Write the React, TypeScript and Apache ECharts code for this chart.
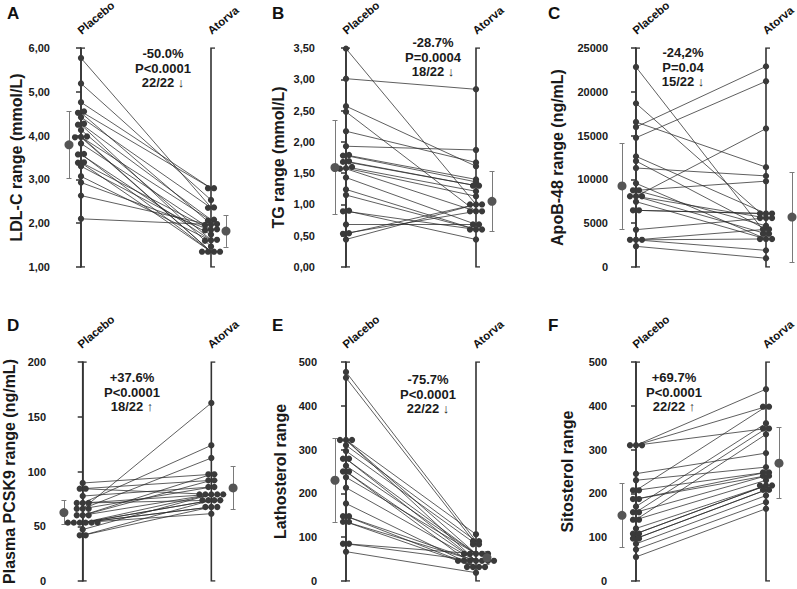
import React, { useEffect, useRef } from "react";
import * as echarts from "echarts";

const FONT = '"Liberation Sans", Arial, Helvetica, sans-serif';

const GROUPS = ["Placebo", "Atorva"];
const PANEL_LETTERS = ["A", "B", "C", "D", "E", "F"];
const Y_AXIS_NAMES = [
  "LDL-C range (mmol/L)",
  "TG range (mmol/L)",
  "ApoB-48 range (ng/mL)",
  "Plasma PCSK9 range (ng/mL)",
  "Lathosterol range",
  "Sitosterol range",
];
const Y_MIN = [1, 0, 0, 0, 0, 0];
const Y_MAX = [6, 3.5, 25000, 200, 500, 500];
const Y_INTERVAL = [1, 0.5, 5000, 50, 100, 100];
const Y_DECIMALS = [2, 2, 0, 0, 0, 0];
const ANNOTATIONS = [
  ["-50.0%", "P<0.0001", "22/22 ↓"],
  ["-28.7%", "P=0.0004", "18/22 ↓"],
  ["-24,2%", "P=0.04", "15/22 ↓"],
  ["+37.6%", "P<0.0001", "18/22 ↑"],
  ["-75.7%", "P<0.0001", "22/22 ↓"],
  ["+69.7%", "P<0.0001", "22/22 ↑"],
];

// paired values (index k = same subject)
const LDL_PLACEBO = [5.77, 5.19, 4.76, 4.55, 4.52, 4.42, 4.27, 4.25, 4.13, 3.98, 3.97, 3.96, 3.82, 3.58, 3.57, 3.39, 3.38, 3.3, 3.07, 2.93, 2.63, 2.1];
const LDL_ATORVA = [2.36, 2.53, 2.8, 2.8, 1.98, 2.35, 2.08, 1.47, 1.62, 1.35, 2.06, 1.35, 1.86, 1.35, 1.61, 1.85, 1.35, 1.74, 1.6, 1.84, 1.96, 1.97];

const TG_PLACEBO = [3.49, 3.01, 2.57, 2.48, 2.17, 1.93, 1.79, 1.78, 1.69, 1.68, 1.6, 1.58, 1.57, 1.43, 1.24, 1.15, 0.9, 0.89, 0.68, 0.54, 0.53, 0.44];
const TG_ATORVA = [1.0, 2.84, 1.61, 0.89, 1.67, 1.87, 1.4, 1.36, 1.3, 1.3, 1.21, 1.13, 0.89, 0.68, 0.6, 0.6, 0.44, 0.6, 0.68, 0.89, 1.0, 1.0];

const APOB_PLACEBO = [22830, 18680, 16550, 15980, 14760, 12630, 12100, 11300, 9550, 8750, 8750, 8070, 8070, 8070, 7460, 6470, 6470, 4260, 3100, 3100, 3100, 2360];
const APOB_ATORVA = [3800, 5600, 11400, 22900, 21200, 6100, 4300, 10400, 3200, 9800, 4700, 15800, 5600, 3800, 3200, 6100, 6100, 5600, 3200, 4300, 1900, 1000];

const PCSK9_PLACEBO = [89.5, 84.3, 84.3, 77.6, 71.2, 71.2, 71.2, 66, 66, 66, 60, 60, 60, 53.3, 53.3, 53.3, 53.3, 53.3, 53.3, 47, 41.7, 41.7];
const PCSK9_ATORVA = [97.4, 91.9, 79.1, 85.8, 123.9, 79.1, 73.7, 162.6, 112.3, 85.8, 97.4, 91.9, 79.1, 73.7, 79.1, 67.6, 73.7, 61.5, 67.6, 79.1, 73.7, 67.6];

const LATHO_PLACEBO = [477, 464, 322, 322, 322, 310, 297, 279, 279, 263, 250, 250, 237, 213, 177, 148, 148, 135, 135, 85, 85, 67];
const LATHO_ATORVA = [91, 84, 106.5, 62, 46, 91, 84, 62, 46, 62, 46, 32, 62, 46, 32, 46, 32, 46, 32, 46, 62, 19];

const SITO_PLACEBO = [310, 310, 310, 245, 230, 207, 207, 187, 187, 170, 157, 157, 140, 140, 120, 108, 108, 97, 97, 85, 72, 55];
const SITO_ATORVA = [438, 398, 348, 292, 260, 248, 398, 248, 240, 360, 348, 240, 230, 335, 218, 218, 218, 208, 208, 195, 180, 165];

const MEAN_PLACEBO = [3.79, 1.59, 9250, 62.5, 230, 150];
const SD_PLACEBO = [0.77, 0.75, 4900, 11, 95, 73];
const MEAN_ATORVA = [1.82, 1.05, 5700, 85, 53, 269];
const SD_ATORVA = [0.36, 0.48, 5130, 19.5, 14, 81];

const PLACEBO_SETS = [LDL_PLACEBO, TG_PLACEBO, APOB_PLACEBO, PCSK9_PLACEBO, LATHO_PLACEBO, SITO_PLACEBO];
const ATORVA_SETS = [LDL_ATORVA, TG_ATORVA, APOB_ATORVA, PCSK9_ATORVA, LATHO_ATORVA, SITO_ATORVA];

// layout (pixels)
const PLOT_H = 219;
const LAYOUT = [
  { axisX: 62, plac: 81, ator: 211, top: 48, labelMargin: 12, nameGap: 38, letterX: 7, letterY: 13, annX: 163, annY: 54, meanOffP: 12, meanOffA: 15 },
  { axisX: 327, plac: 346, ator: 476, top: 48, labelMargin: 12, nameGap: 41, letterX: 272, letterY: 13, annX: 433, annY: 43, meanOffP: 11, meanOffA: 16 },
  { axisX: 614, plac: 636, ator: 766, top: 48, labelMargin: 6, nameGap: 49, letterX: 548, letterY: 13, annX: 683, annY: 53, meanOffP: 14, meanOffA: 26 },
  { axisX: 54, plac: 81, ator: 211, top: 362, labelMargin: 10, nameGap: 39, letterX: 7, letterY: 325, annX: 132, annY: 378, meanOffP: 19, meanOffA: 22 },
  { axisX: 327, plac: 346, ator: 476, top: 362, labelMargin: 10, nameGap: 39, letterX: 272, letterY: 325, annX: 428, annY: 380, meanOffP: 11, meanOffA: 11 },
  { axisX: 614, plac: 636, ator: 766, top: 362, labelMargin: 7, nameGap: 39, letterX: 548, letterY: 325, annX: 674, annY: 378, meanOffP: 14, meanOffA: 13 },
];
const LABEL_ANGLE = (40 * Math.PI) / 180;

function swarmOffsets(values: number[], pxPerUnit: number, rowThresh = 2.2, step = 6): number[] {
  const idx = values.map((_, i) => i).sort((a, b) => values[a] - values[b]);
  const offsets = new Array(values.length).fill(0);
  let row: number[] = [];
  let rowStart: number | null = null;
  const flush = () => {
    const n = row.length;
    row.forEach((id, j) => {
      offsets[id] = (j - (n - 1) / 2) * step;
    });
    row = [];
  };
  for (const id of idx) {
    const ypx = values[id] * pxPerUnit;
    if (rowStart === null || ypx - rowStart > rowThresh) {
      flush();
      rowStart = ypx;
    }
    row.push(id);
  }
  flush();
  return offsets;
}

export default function App() {
  const ref = useRef<HTMLDivElement>(null);
  useEffect(() => {
    const chart = echarts.init(ref.current!, undefined, { renderer: "svg" });
    const grids: any[] = [];
    const xAxes: any[] = [];
    const yAxes: any[] = [];
    const series: any[] = [];
    const graphics: any[] = [];

    PLACEBO_SETS.forEach((placebo, i) => {
      const atorva = ATORVA_SETS[i];
      const L = LAYOUT[i];
      const pxX = L.ator - L.plac;
      const right = L.ator + 31;
      const yMin = Y_MIN[i];
      const yMax = Y_MAX[i];
      const pxY = PLOT_H / (yMax - yMin);

      grids.push({ left: L.axisX, top: L.top, width: right - L.axisX, height: PLOT_H });
      xAxes.push({
        type: "value",
        gridIndex: i,
        min: -(L.plac - L.axisX) / pxX,
        max: 1 + (right - L.ator) / pxX,
        show: false,
      });
      yAxes.push({
        type: "value",
        gridIndex: i,
        min: yMin,
        max: yMax,
        interval: Y_INTERVAL[i],
        name: Y_AXIS_NAMES[i],
        nameLocation: "middle",
        nameGap: L.nameGap,
        nameTextStyle: { fontSize: 16, fontWeight: "bold", fontFamily: FONT, color: "#1a1a1a" },
        axisLine: { show: true, lineStyle: { color: "#333", width: 1.5 } },
        axisTick: { show: true, length: 5, lineStyle: { color: "#333", width: 1.5 } },
        axisLabel: {
          margin: L.labelMargin,
          fontSize: 11,
          fontWeight: "bold",
          fontFamily: FONT,
          color: "#1a1a1a",
          formatter: (v: number) => (Y_DECIMALS[i] ? v.toFixed(2).replace(".", ",") : String(v)),
        },
        splitLine: { show: false },
      });

      // connecting lines
      series.push({
        type: "lines",
        coordinateSystem: "cartesian2d",
        xAxisIndex: i,
        yAxisIndex: i,
        z: 1,
        silent: true,
        lineStyle: { color: "#2a2a2a", width: 0.75, opacity: 1 },
        data: placebo.map((v, k) => ({ coords: [[0, v], [1, atorva[k]]] })),
      });

      // column brackets
      const cap = 4 / pxX;
      series.push({
        type: "lines",
        coordinateSystem: "cartesian2d",
        polyline: true,
        xAxisIndex: i,
        yAxisIndex: i,
        z: 2,
        silent: true,
        lineStyle: { color: "#333", width: 1.6, opacity: 1 },
        data: [0, 1].map((g) => ({
          coords: [[g + cap, yMax], [g, yMax], [g, yMin], [g + cap, yMin]],
        })),
      });

      // dots
      const offP = swarmOffsets(placebo, pxY);
      const offA = swarmOffsets(atorva, pxY);
      series.push({
        type: "scatter",
        xAxisIndex: i,
        yAxisIndex: i,
        z: 4,
        clip: false,
        silent: true,
        symbolSize: 6.3,
        itemStyle: { color: "#3a3a3a", opacity: 1 },
        data: [
          ...placebo.map((v, k) => [offP[k] / pxX, v]),
          ...atorva.map((v, k) => [1 + offA[k] / pxX, v]),
        ],
      });

      // mean ± SD
      const mxP = -L.meanOffP / pxX;
      const mxA = 1 + L.meanOffA / pxX;
      const ec = 2.5 / pxX;
      const bars = (mx: number, m: number, s: number) => [
        { coords: [[mx, m - s], [mx, m + s]] },
        { coords: [[mx - ec, m - s], [mx + ec, m - s]] },
        { coords: [[mx - ec, m + s], [mx + ec, m + s]] },
      ];
      series.push({
        type: "lines",
        coordinateSystem: "cartesian2d",
        xAxisIndex: i,
        yAxisIndex: i,
        z: 3,
        silent: true,
        lineStyle: { color: "#7a7a7a", width: 1, opacity: 1 },
        data: [
          ...bars(mxP, MEAN_PLACEBO[i], SD_PLACEBO[i]),
          ...bars(mxA, MEAN_ATORVA[i], SD_ATORVA[i]),
        ],
      });
      series.push({
        type: "scatter",
        xAxisIndex: i,
        yAxisIndex: i,
        z: 4,
        clip: false,
        silent: true,
        symbolSize: 9,
        itemStyle: { color: "#555", opacity: 1 },
        data: [
          [mxP, MEAN_PLACEBO[i]],
          [mxA, MEAN_ATORVA[i]],
        ],
      });

      // texts
      graphics.push({
        type: "text",
        x: L.letterX,
        y: L.letterY,
        style: { text: PANEL_LETTERS[i], font: `bold 17px ${FONT}`, fill: "#111", textAlign: "left", verticalAlign: "middle" },
      });
      [L.plac, L.ator].forEach((cx, g) => {
        graphics.push({
          type: "text",
          x: cx + 2,
          y: L.top - 11.5,
          rotation: LABEL_ANGLE,
          style: { text: GROUPS[g], font: `bold 11.5px ${FONT}`, fill: "#111", textAlign: "left", verticalAlign: "bottom" },
        });
      });
      graphics.push({
        type: "text",
        x: L.annX,
        y: L.annY - 7.5,
        style: {
          text: ANNOTATIONS[i].join("\n"),
          font: `bold 13px ${FONT}`,
          fill: "#1a1a1a",
          textAlign: "center",
          verticalAlign: "top",
          lineHeight: 14.5,
        },
      });
    });

    chart.setOption({
      animation: false,
      backgroundColor: "#ffffff",
      grid: grids,
      xAxis: xAxes,
      yAxis: yAxes,
      series,
      graphic: graphics,
    });
    return () => chart.dispose();
  }, []);
  return <div ref={ref} style={{ position: "fixed", left: 0, top: 0, width: 797, height: 589 }} />;
}
